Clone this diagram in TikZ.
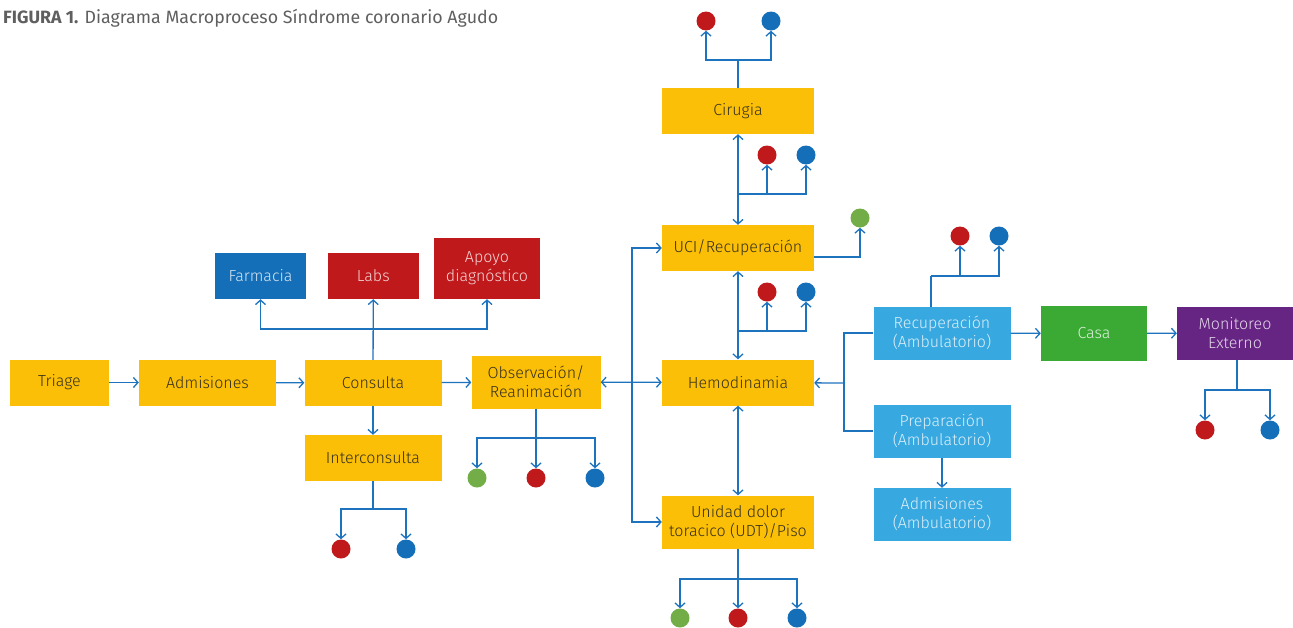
\documentclass[tikz,border=0pt]{standalone}
\usepackage{fontspec}
\setmainfont{Fira Sans}
\IfFontExistsTF{Fira Sans Light}{\newfontfamily\lightfont{Fira Sans Light}}{\newfontfamily\lightfont{Fira Sans}}
\usetikzlibrary{arrows.meta}
\definecolor{myyellow}{RGB}{251,191,8}
\definecolor{mydarkblue}{RGB}{20,111,184}
\definecolor{myred}{RGB}{192,25,28}
\definecolor{mylightblue}{RGB}{56,168,224}
\definecolor{mygreen}{RGB}{59,170,53}
\definecolor{mypurple}{RGB}{102,36,131}
\definecolor{mydotgreen}{RGB}{114,173,71}
\definecolor{myline}{RGB}{30,115,190}
\definecolor{mytext}{RGB}{55,48,30}
\definecolor{mytitle}{RGB}{95,95,95}
\newcommand{\boxfont}{\lightfont\fontsize{16}{19}\selectfont}
\newcommand{\heightbox}{46pt}
\newcommand{\heighttall}{53pt}
\tikzset{
    box/.style={rectangle, minimum height=\heightbox, align=center, inner sep=2pt, font=\boxfont, text=mytext},
    ybox/.style={box, fill=myyellow},
    cbox/.style={box, fill=#1, text=white!82!#1},
    tall/.style={minimum height=\heighttall},
    dot/.style={circle, fill=#1, minimum size=19pt, inner sep=0pt},
    link/.style={myline, line width=1.3pt},
    arr/.style={link, -{Straight Barb[length=4.5pt, width=10pt]}},
    dbl/.style={link, {Straight Barb[length=4.5pt, width=10pt]}-{Straight Barb[length=4.5pt, width=10pt]}}
}

\begin{document}
\begin{tikzpicture}[x={(1pt,0)}, y={(0,-1pt)}]
    \useasboundingbox (0,0) rectangle (1293,627);
    \node[anchor=base west, inner sep=0pt, font=\fontsize{17.8}{20}\selectfont, text=mytitle] (title) at (3,23)
        {\textbf{FIGURA 1.} Diagrama Macroproceso Síndrome coronario Agudo};

    % main chain
    \node[ybox, minimum width=99pt] (triage) at (59.5,382.5) {Triage};
    \node[ybox, minimum width=137pt] (admisiones) at (207.5,382.5) {Admisiones};
    \node[ybox, minimum width=137pt] (consulta) at (373,383) {Consulta};
    \node[ybox, tall, minimum width=129pt] (observacion) at (536,382) {Observación/\\Reanimación};
    \node[ybox, minimum width=137pt] (interconsulta) at (373,458) {Interconsulta};
    \node[cbox=mydarkblue, minimum width=91pt] (farmacia) at (260.5,276) {Farmacia};
    \node[cbox=myred, minimum width=91pt] (labs) at (373.3,276) {Labs};
    \node[cbox=myred, minimum width=106pt, minimum height=61pt] (apoyo) at (487,268.5) {Apoyo\\diagnóstico};

    \node[ybox, minimum width=152pt] (cirugia) at (738,111) {Cirugia};
    \node[ybox, minimum width=152pt] (uci) at (738,248) {UCI/Recuperación};
    \node[ybox, minimum width=152pt] (hemodinamia) at (738,382.5) {Hemodinamia};
    \node[ybox, tall, minimum width=152pt] (udt) at (738,522) {Unidad dolor\\toracico (UDT)/Piso};

    \node[cbox=mylightblue, tall, minimum width=137pt] (recup-amb) at (942,333) {Recuperación\\(Ambulatorio)};
    \node[cbox=mygreen, minimum width=106pt, minimum height=55pt] (casa) at (1094,333.5) {Casa};
    \node[cbox=mypurple, tall, minimum width=116pt] (monitoreo) at (1235,333) {Monitoreo\\Externo};
    \node[cbox=mylightblue, tall, minimum width=137pt] (prep-amb) at (942,431) {Preparación\\(Ambulatorio)};
    \node[cbox=mylightblue, tall, minimum width=137pt] (adm-amb) at (942,514.5) {Admisiones\\(Ambulatorio)};

    % dots
    \node[dot=myred] (cirugia-r) at (706,21) {};
    \node[dot=mydarkblue] (cirugia-b) at (771,21) {};
    \node[dot=myred] (uci-r) at (767,155) {};
    \node[dot=mydarkblue] (uci-b) at (806,155) {};
    \node[dot=mydotgreen] (uci-g) at (860,218) {};
    \node[dot=myred] (hemo-r) at (767,292) {};
    \node[dot=mydarkblue] (hemo-b) at (806,292) {};
    \node[dot=mydotgreen] (obs-g) at (477,478) {};
    \node[dot=myred] (obs-r) at (536,478) {};
    \node[dot=mydarkblue] (obs-b) at (595,478) {};
    \node[dot=myred] (inter-r) at (341,549) {};
    \node[dot=mydarkblue] (inter-b) at (406,549) {};
    \node[dot=mydotgreen] (udt-g) at (680,618) {};
    \node[dot=myred] (udt-r) at (738,618) {};
    \node[dot=mydarkblue] (udt-b) at (797,618) {};
    \node[dot=myred] (recup-r) at (960,236) {};
    \node[dot=mydarkblue] (recup-b) at (999,236) {};
    \node[dot=myred] (monit-r) at (1205,430) {};
    \node[dot=mydarkblue] (monit-b) at (1270,430) {};

    % split points
    \coordinate (consulta-split) at (373,329);
    \coordinate (inter-split) at (373,509);
    \coordinate (obs-split) at (536,438);
    \coordinate (obs-bus) at (632,382);
    \coordinate (cirugia-split) at (738,60);
    \coordinate (uci-split) at (738,194);
    \coordinate (hemo-split) at (738,331);
    \coordinate (udt-split) at (738,579);
    \coordinate (recup-top) at (931,307);
    \coordinate (recup-split) at (931,276);
    \coordinate (recup-bus) at (844,383);
    \coordinate (monit-split) at (1237,390);

    \draw[arr] (triage) -- (admisiones);
    \draw[arr] (admisiones) -- (consulta);
    \draw[arr] (consulta) -- (observacion);
    \draw[arr] (consulta) -- (labs);
    \draw[arr] (consulta-split) -| (farmacia);
    \draw[arr] (consulta-split) -| (apoyo);
    \draw[arr] (consulta) -- (interconsulta);
    \draw[link] (interconsulta) -- (inter-split);
    \draw[arr] (inter-split) -| (inter-r);
    \draw[arr] (inter-split) -| (inter-b);
    \draw[arr] (observacion) -- (obs-r);
    \draw[arr] (obs-split) -| (obs-g);
    \draw[arr] (obs-split) -| (obs-b);

    \draw[dbl] (observacion) -- (hemodinamia);
    \draw[arr] (obs-bus) |- (uci);
    \draw[arr] (obs-bus) |- (udt);

    \draw[link] (cirugia) -- (cirugia-split);
    \draw[arr] (cirugia-split) -| (cirugia-r);
    \draw[arr] (cirugia-split) -| (cirugia-b);
    \draw[dbl] (cirugia) -- (uci);
    \draw[arr] (uci-split) -| (uci-r);
    \draw[arr] (uci-split) -| (uci-b);
    \draw[arr] ([yshift=-9pt]uci.east) -| (uci-g);
    \draw[dbl] (uci) -- (hemodinamia);
    \draw[arr] (hemo-split) -| (hemo-r);
    \draw[arr] (hemo-split) -| (hemo-b);
    \draw[dbl] (hemodinamia) -- (udt);
    \draw[arr] (udt) -- (udt-r);
    \draw[arr] (udt-split) -| (udt-g);
    \draw[arr] (udt-split) -| (udt-b);

    \draw[arr] (recup-bus) -- (hemodinamia);
    \draw[link] (recup-amb.west) -| (recup-bus) |- (prep-amb.west);
    \draw[link] (recup-top) -- (recup-split);
    \draw[arr] (recup-split) -| (recup-r);
    \draw[arr] (recup-split) -| (recup-b);
    \draw[arr] (recup-amb) -- (casa);
    \draw[arr] (casa) -- (monitoreo);
    \draw[link] (monitoreo.south -| monit-split) -- (monit-split);
    \draw[arr] (monit-split) -| (monit-r);
    \draw[arr] (monit-split) -| (monit-b);
    \draw[arr] (prep-amb) -- (adm-amb);
\end{tikzpicture}
\end{document}
